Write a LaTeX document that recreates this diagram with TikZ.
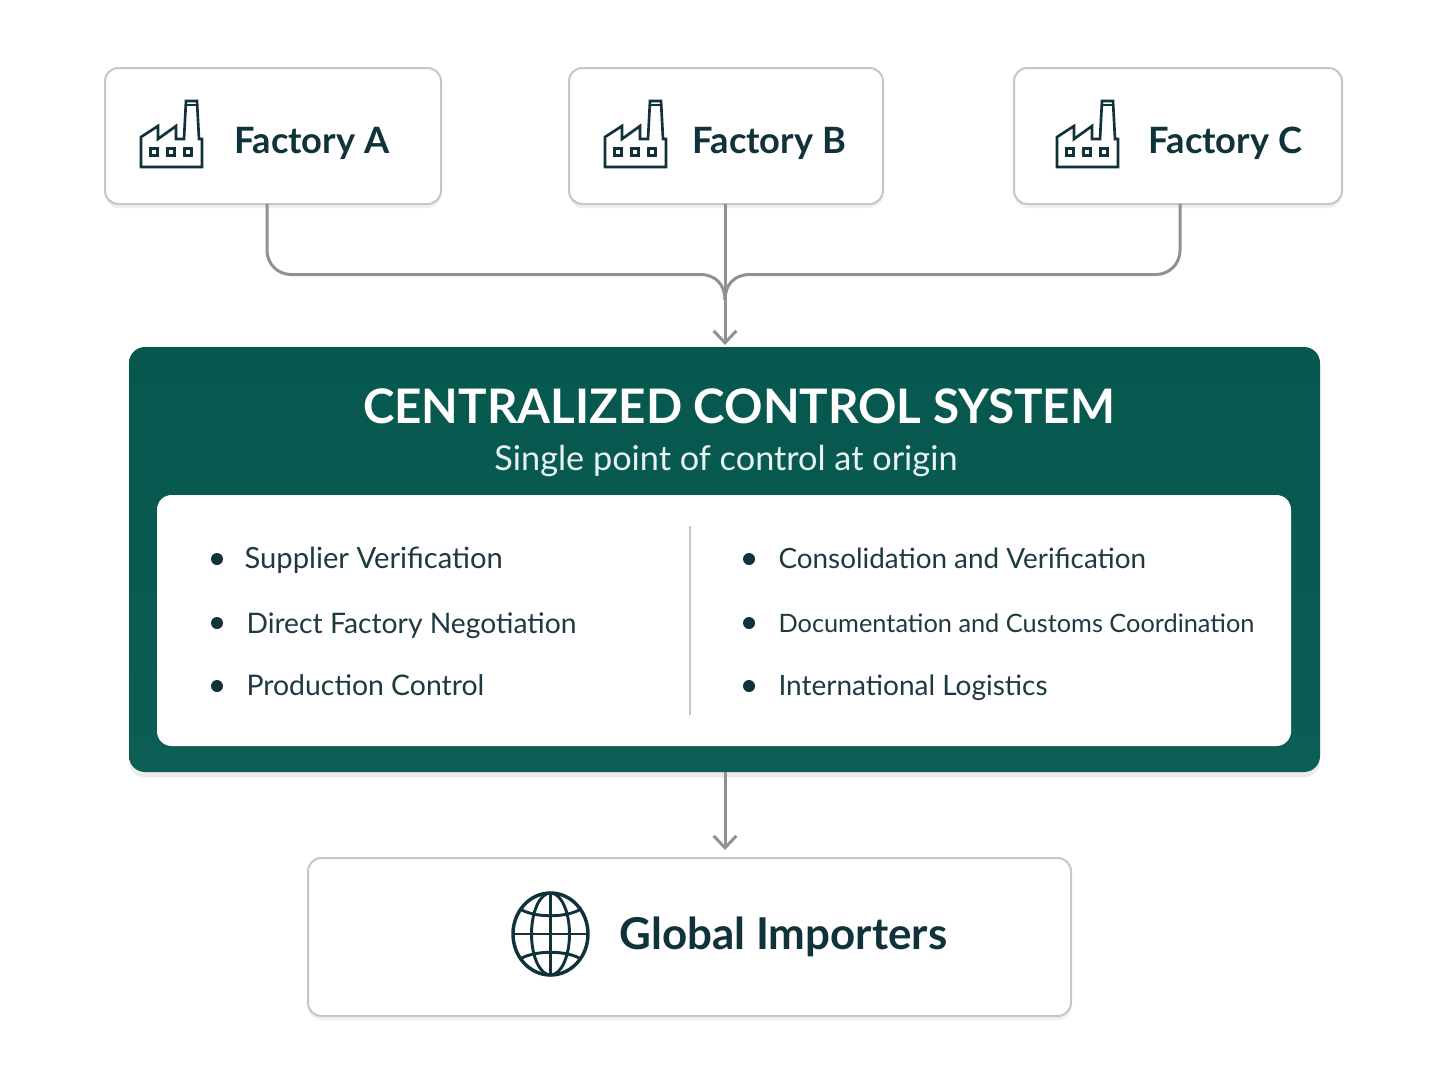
\documentclass[tikz,border=0pt]{standalone}
\usepackage{fontspec}
\setmainfont{Lato}
\usetikzlibrary{arrows.meta,shadows}
\definecolor{inkdark}{HTML}{10323A}
\definecolor{inktext}{HTML}{1E3A40}
\definecolor{wire}{HTML}{8E9295}
\definecolor{edge}{HTML}{C4C7C8}
\definecolor{greentop}{HTML}{06584E}
\definecolor{greenbot}{HTML}{0B5E54}
\tikzset{every picture/.style={line width=0.75pt},
  cardbox/.style={draw=edge,line width=1.5pt,fill=white,rounded corners=10pt,inner sep=0pt,
    drop shadow={shadow xshift=0pt,shadow yshift=-3pt,opacity=0.06,fill=black}},
  cardtext/.style={anchor=base west,inner sep=0pt,text=inkdark,font=\fontsize{27.2}{30}\selectfont\bfseries},
  listtext/.style={anchor=base west,inner sep=0pt,text=inktext,font=\fontsize{21}{26}\selectfont},
  dotmark/.style={circle,fill=inkdark,inner sep=0pt,minimum size=9pt},
  wireline/.style={draw=wire,line width=2.25pt},
  wirearrow/.style={wireline,-{Straight Barb[length=9pt,width=17pt,line width=2.25pt]}},
  factory/.pic={
    \draw [draw=inkdark,line width=2pt,line join=miter]
      (0,0) -- (0,30) -- (17,41) -- (17,28) -- (35,41) -- (35,28) -- (43,28)
      -- (45,66) -- (56,66) -- (58,28) -- (61,28) -- (61,0) -- cycle;
    \draw [draw=inkdark,line width=1.3pt] (44.8,62) -- (56.2,62);
    \foreach \wx in {13,30,47}
      \draw [draw=inkdark,line width=1.6pt] (\wx-3.5,18.5) rectangle (\wx+3.5,11.5);
  }}

\begin{document}
\begin{tikzpicture}[x=0.75pt,y=0.75pt,yscale=-1,xscale=1]
\useasboundingbox (0,0) rectangle (1448,1086);

% Factory cards
\node [cardbox,minimum width=252pt,minimum height=102pt] (facta) at (273,136) {};
\node [cardbox,minimum width=235.5pt,minimum height=102pt] (factb) at (726,136) {};
\node [cardbox,minimum width=246pt,minimum height=102pt] (factc) at (1178,136) {};
\pic at (141,167) {factory};
\pic at (605,167) {factory};
\pic at (1057,167) {factory};
\node [cardtext] (facta text) at (234,153) {Factory A};
\node [cardtext] (factb text) at (692,153) {Factory B};
\node [cardtext] (factc text) at (1148,153) {Factory C};

% Control system
\node [rounded corners=12pt,top color=greentop,bottom color=greenbot,inner sep=0pt,
  minimum width=893.25pt,minimum height=318.75pt,
  drop shadow={shadow xshift=0pt,shadow yshift=-4pt,opacity=0.08,fill=black}] (control) at (724.5,559.5) {};
\node [fill=white,rounded corners=11pt,inner sep=0pt,minimum width=850.5pt,minimum height=188.25pt] (panel) at (724,620.5) {};
\node [anchor=base,inner sep=0pt,text=white,font=\fontsize{35.7}{40}\selectfont\bfseries] (title) at (739,423) {CENTRALIZED CONTROL SYSTEM};
\node [anchor=base,inner sep=0pt,text=white!92!greentop,font=\fontsize{25.7}{28}\selectfont] (subtitle) at (726,470) {Single point of control at origin};
\coordinate (divtop) at (690,526);
\coordinate (divbot) at (690,715);
\draw [draw=edge,line width=1.1pt] (divtop) -- (divbot);

% Left list
\node [dotmark] (dota) at (217,559) {};
\node [dotmark] (dotb) at (217,623) {};
\node [dotmark] (dotc) at (217,686) {};
\node [listtext,font=\fontsize{21.9}{26}\selectfont] (itema) at (244,568) {Supplier Verification};
\node [listtext,font=\fontsize{21.2}{26}\selectfont] (itemb) at (246,633) {Direct Factory Negotiation};
\node [listtext,font=\fontsize{21.3}{26}\selectfont] (itemc) at (246,695) {Production Control};
% Right list
\node [dotmark] (dotd) at (749,559) {};
\node [dotmark] (dote) at (749,623) {};
\node [dotmark] (dotf) at (749,686) {};
\node [listtext,font=\fontsize{20.9}{26}\selectfont] (itemd) at (778,568) {Consolidation and Verification};
\node [listtext,font=\fontsize{19}{24}\selectfont] (iteme) at (778,632) {Documentation and Customs Coordination};
\node [listtext] (itemf) at (778,695) {International Logistics};

% Importers card
\node [cardbox,minimum width=572.25pt,minimum height=118.5pt] (global) at (689.5,937) {};
\node [cardtext,font=\fontsize{32.9}{36}\selectfont\bfseries] (global text) at (619,949) {Global Importers};
% Globe
\coordinate (globe) at (550.5,934);
\draw [draw=inkdark,line width=2.6pt] (globe) ellipse [x radius=37.5,y radius=41];
\draw [draw=inkdark,line width=2.2pt] (globe) ellipse [x radius=19,y radius=41];
\draw [draw=inkdark,line width=2.2pt] (550.5,893) -- (550.5,975);
\draw [draw=inkdark,line width=2.2pt] (513,934) -- (588,934);
\draw [draw=inkdark,line width=2.2pt] (520,909) .. controls (535,918) and (566,918) .. (581,909);
\draw [draw=inkdark,line width=2.2pt] (520,959) .. controls (535,950) and (566,950) .. (581,959);

% Connectors
\coordinate (atap) at (267,204);
\coordinate (ctap) at (1180,204);
\coordinate (btap) at (725,204);
\coordinate (merge) at (725,300);
\coordinate (inctrl) at (725,345);
\coordinate (outctrl) at (725,772);
\coordinate (inglobal) at (725,850);
\draw [wireline,rounded corners=18pt] (atap) -- (267,274.5) -- (700,274.5);
\draw [wireline] (700,274.5) .. controls (716,274.5) and (725,285) .. (merge);
\draw [wireline,rounded corners=18pt] (ctap) -- (1180,274.5) -- (750,274.5);
\draw [wireline] (750,274.5) .. controls (734,274.5) and (725,285) .. (merge);
\draw [wirearrow] (btap) -- (inctrl);
\draw [wirearrow] (outctrl) -- (inglobal);

\end{tikzpicture}
\end{document}
